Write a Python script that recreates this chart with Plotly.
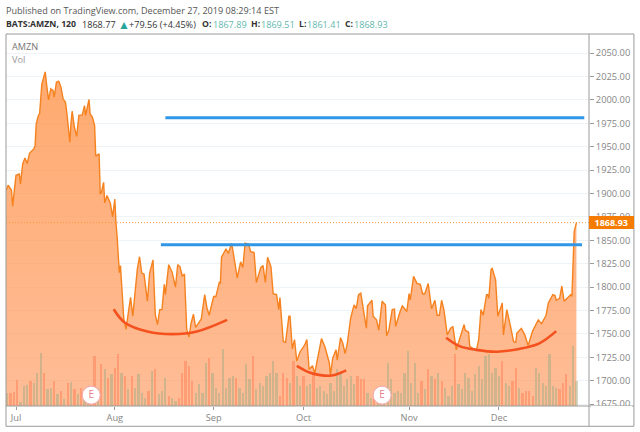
import plotly.graph_objects as go

# two hour bars, counted from the first session of July
bars = [-9, -7, -4, -3, 0, 3, 4, 6, 8, 10, 12, 16, 17, 18, 20, 21, 23, 24, 26, 27,
        29, 31, 33, 34, 36, 38, 40, 42, 44, 45, 48, 49, 50, 52, 54, 56, 59, 61, 62, 65,
        66, 68, 70, 71, 74, 75, 76, 78, 79, 81, 84, 86, 88, 89, 90, 92, 93, 96, 98, 99,
        102, 104, 106, 108, 110, 112, 114, 117, 119, 122, 124, 126, 128, 130, 132, 133, 136, 139, 142, 144,
        146, 148, 150, 151, 152, 154, 156, 158, 160, 165, 168, 170, 172, 176, 178, 181, 182, 183, 187, 189,
        192, 194, 197, 200, 202, 204, 207, 209, 212, 214, 218, 220, 222, 224, 227, 229, 232, 234, 235, 238,
        240, 243, 244, 246, 248, 250, 253, 257, 259, 261, 264, 266, 272, 275, 279, 280, 282, 285, 286, 289,
        291, 293, 295, 298, 301, 303, 305, 307, 309, 311, 312, 313, 317, 318, 321, 323, 326, 329, 330, 332,
        335, 337, 338, 342, 344, 348, 350, 351, 354, 357, 360, 362, 364, 367, 369, 370, 373, 375, 377, 379,
        381, 384, 387, 389, 392, 395, 399, 400, 403, 404, 406, 410, 412, 414, 416, 419, 420, 421, 423, 424,
        427, 429, 432, 433, 434, 437, 440, 443, 445, 446, 450, 453, 456, 460, 465, 468, 472, 474, 478, 480,
        481, 484, 486, 488, 494, 495, 497, 499]
closes = [1903, 1909, 1903.5, 1886.5, 1919.5, 1921, 1910, 1932, 1938, 1932, 1943, 1948, 1951.5, 1974.6, 1983.5, 1985, 2017, 2021, 2030, 2019,
          2000, 2012, 2010, 2003, 2019, 2020, 2014, 2001, 1997.7, 1989, 1955, 1976, 1988, 1971, 1961, 1983.5, 1984, 1994, 1983.5, 2000.5,
          1985, 1981.7, 1973, 1940, 1942.6, 1900, 1900.7, 1912, 1890, 1898, 1889.7, 1875, 1894, 1868.8, 1854.6, 1815.5, 1823, 1766, 1755, 1764,
          1789, 1769, 1792, 1819, 1832.5, 1815, 1814, 1785, 1815, 1829, 1771, 1760, 1776, 1776, 1803, 1792, 1824, 1816, 1800, 1824,
          1822, 1812, 1814, 1787, 1755, 1746.6, 1762, 1771, 1757, 1766, 1792, 1778, 1770, 1790, 1790, 1805, 1804, 1832, 1841, 1836,
          1847, 1832.5, 1810, 1827, 1821, 1847, 1846, 1838, 1837, 1805, 1821, 1823, 1805, 1832, 1822, 1793, 1792, 1776, 1789, 1742,
          1741, 1769, 1769, 1734, 1744, 1721, 1731, 1738, 1744, 1712, 1716, 1708, 1745, 1736.6, 1719, 1706, 1724, 1733, 1722, 1746,
          1740, 1729, 1740, 1767, 1781, 1777, 1792, 1793.5, 1779.5, 1765, 1756, 1780, 1786, 1769, 1765, 1754, 1785, 1781, 1748, 1754,
          1776, 1776.5, 1758, 1774, 1780, 1774, 1793, 1786, 1811.5, 1804, 1803, 1793, 1793, 1804, 1786, 1777, 1786, 1770, 1770, 1786,
          1776, 1749, 1756, 1758, 1733, 1745, 1760, 1754, 1752, 1737, 1735, 1733, 1744, 1776, 1770, 1792, 1792, 1788, 1819, 1820,
          1808, 1769, 1781, 1783, 1749, 1776, 1760, 1742, 1741, 1751, 1756, 1749, 1737.6, 1753, 1765, 1761, 1770, 1783, 1792, 1791,
          1786, 1788, 1801, 1785, 1792, 1790, 1859, 1868.93]
assert len(bars) == len(closes)

# volume, one value for every third bar (hidden scale, arbitrary units)
volumes = [40, 40, 42, 78, 12, 60, 62, 75, 70, 100, 158, 100, 50, 55, 75, 35, 45, 20, 68, 72,
           50, 35, 55, 25, 30, 40, 150, 55, 125, 110, 85, 95, 115, 155, 100, 90, 50, 90, 55, 95,
           40, 25, 45, 105, 110, 35, 45, 85, 30, 25, 15, 25, 100, 135, 120, 75, 40, 65,
           40, 130, 145, 100, 55, 40, 170, 55, 85, 90, 85, 55, 40, 125, 80, 150, 50, 70, 60, 90,
           100, 135, 100, 30, 100, 85, 70, 135, 90, 60, 90, 60, 65, 95, 55, 60, 45, 35, 70, 45,
           110, 100, 60, 80, 90, 65, 90, 80, 80, 40, 25, 20, 25, 25, 40, 130, 80, 40, 45, 40,
           100, 165, 70, 130, 40, 75, 50, 110, 90, 80, 100, 75, 55, 30, 60, 155, 65, 50, 100, 85,
           45, 95, 120, 80, 150, 155, 100, 115, 90, 135, 70, 60, 75, 115, 55, 40, 45, 45, 30, 115,
           100, 70, 60, 155, 60, 55, 50, 70, 95, 60, 180, 75]
# g = up bar, d = down bar
vol_sides = ("g d d d g g g d g g g d g g d g d g d g d g d g g d d g d g d g d d g d g d g g g g d g d g g g d g g d d d d d g g "
             "g g d g g g g g g g d g g g g d g g g g g g g d d d g d g g d g g d g g g g g g g g g g g g d d d g g d g g g g g g g g "
             "g g g g g d g d g d g d g g g d g g g g g g g g g g g g g d g g d d g d d d d g g g g g g g d d d g g g").split()
assert len(volumes) == len(vol_sides)

month_bars = [0, 88, 176, 256, 350, 430]
month_labels = ["Jul", "Aug", "Sep", "Oct", "Nov", "Dec"]
price_ticks = [1675, 1700, 1725, 1750, 1775, 1800, 1825, 1850, 1875, 1900, 1925, 1950, 1975, 2000, 2025, 2050]

# hand drawn marks on the chart
level_bars = [[133, 506], [129, 504]]
level_prices = [1981, 1845.3]
arcs = [
    ([87, 97, 117, 139, 161, 188], [1776.4, 1762, 1752.6, 1749.8, 1752.6, 1765]),
    ([250, 262, 271, 281, 288, 294], [1716, 1708.5, 1706, 1705.6, 1708, 1711]),
    ([383, 395, 410, 428, 448, 466, 481], [1746, 1737, 1733, 1731, 1734, 1740, 1753]),
]
earnings_bars = [67, 326]
earnings_price = 1684.6
last_price = 1868.93

X_RANGE = [-8.9, 510.2]
PRICE_RANGE = [1673, 2070.5]
VOL_RANGE = [0, 1117.5]

LEFT, RIGHT, TOP, BOTTOM = 5.5, 589.5, 33.5, 406
GREY = "#868686"
TEAL = "#5fb8ad"
DARK = "#333333"


def px_x(px):
    return (px - LEFT) / (RIGHT - LEFT)


def px_y(py):
    return (BOTTOM - py) / (BOTTOM - TOP)


def label(text, x, y, color=DARK, size=9.1, **kw):
    return dict(text=text, x=px_x(x), y=px_y(y), xref="paper", yref="paper", xanchor="left",
                yanchor="middle", showarrow=False, borderpad=0, borderwidth=0,
                font=dict(family="Open Sans", size=size, color=color), **kw)


fig = go.Figure()

fig.add_trace(go.Scatter(
    x=bars, y=closes, mode="lines", line=dict(color="#f5821f", width=1.4),
    fill="tozeroy",
    fillgradient=dict(type="vertical", start=1673, stop=2030,
                      colorscale=[[0, "rgba(255,160,105,0.7)"], [1, "rgba(255,146,70,0.78)"]]),
    yaxis="y"))

vol_x = [-8 + 3 * i for i in range(len(volumes))]
vol_colors = ["rgba(150,170,130,0.45)" if s == "g" else "rgba(255,125,85,0.5)" for s in vol_sides]
fig.add_trace(go.Bar(x=vol_x, y=volumes, width=2.0, marker=dict(color=vol_colors, line_width=0), yaxis="y2"))

fig.add_trace(go.Scatter(x=X_RANGE, y=[last_price, last_price], mode="lines",
                         line=dict(color="#f59a3c", width=1, dash="1px,2px"), yaxis="y3"))
for xs, price in zip(level_bars, level_prices):
    fig.add_trace(go.Scatter(x=xs, y=[price, price], mode="lines",
                             line=dict(color="#2f97e6", width=3), yaxis="y3"))
for xs, ys in arcs:
    fig.add_trace(go.Scatter(x=xs, y=ys, mode="lines", line=dict(color="#f4511e", width=2.6, shape="spline"),
                             yaxis="y3"))
fig.add_trace(go.Scatter(
    x=earnings_bars, y=[earnings_price] * len(earnings_bars), mode="markers+text", text=["E", "E"],
    textposition="middle center", textfont=dict(family="Open Sans", size=10, color="#e8808c"),
    marker=dict(size=18, color="white", line=dict(color="#f2a6ae", width=1)), yaxis="y3"))

annotations = [
    label("Published on TradingView.com, December 27, 2019 08:29:14 EST", 5, 10, "#555555"),
    label("<b>BATS:AMZN, 120</b>", 5, 23.5, size=8.7),
    label("1868.77", 81.7, 23.5),
    label("\u25b2", 118, 23.5, "#26a69a", 12),
    label("+79.56 (+4.45%)", 129, 23.5),
    label("<b>O:</b>", 202, 23.5, size=8.7),
    label("1867.89", 212.7, 23.5, TEAL),
    label("<b>H:</b>", 250.7, 23.5, size=8.7),
    label("1869.51", 260.7, 23.5, TEAL),
    label("<b>L:</b>", 299.3, 23.5, size=8.7),
    label("1861.41", 307, 23.5, TEAL),
    label("<b>C:</b>", 345, 23.5, size=8.7),
    label("1868.93", 354.3, 23.5, TEAL),
    label("AMZN", 12, 46, "#777777", 9.2),
    label("Vol", 12, 59.5, "#999999", 9.2),
    label("<b>1868.93</b>", 590, 222.7, "white", 9, bgcolor="#f57c00", width=44.5, height=13, align="center"),
    # the axis cuts the lowest price label off at its baseline
    label(" ", 592, 409.5, size=5, bgcolor="white", width=41, height=6),
]

frame = "#9a9a9a"
shapes = [
    dict(type="rect", xref="paper", yref="paper", x0=0, x1=px_x(634.5), y0=px_y(426.3), y1=1,
         line=dict(color=frame, width=1)),
    dict(type="line", xref="paper", yref="paper", x0=1, x1=1, y0=px_y(426.3), y1=1,
         line=dict(color=frame, width=1)),
    dict(type="line", xref="paper", yref="paper", x0=0, x1=px_x(634.5), y0=0, y1=0,
         line=dict(color=frame, width=1)),
]

fig.update_layout(
    width=640, height=432, showlegend=False, paper_bgcolor="white", plot_bgcolor="white",
    margin=dict(l=LEFT, r=640 - RIGHT, t=TOP, b=432 - BOTTOM, pad=0),
    annotations=annotations, shapes=shapes,
    xaxis=dict(range=X_RANGE, tickmode="array", tickvals=month_bars, ticktext=month_labels, showgrid=False,
               zeroline=False, ticks="outside", ticklen=3, tickcolor=frame,
               tickfont=dict(family="Open Sans", size=9.3, color=GREY)),
    yaxis=dict(range=PRICE_RANGE, side="right", tickmode="array", tickvals=price_ticks,
               tickformat=".2f", gridcolor="#eef3f7", gridwidth=1, zeroline=False, ticks="outside", ticklen=4,
               tickcolor=frame, tickfont=dict(family="Open Sans", size=9.3, color=GREY)),
    yaxis2=dict(range=VOL_RANGE, overlaying="y", visible=False),
    yaxis3=dict(range=PRICE_RANGE, overlaying="y", visible=False),
    bargap=0,
)

fig.write_html("out.html", config=dict(displayModeBar=False),
               post_script="document.body.style.margin='0';")
